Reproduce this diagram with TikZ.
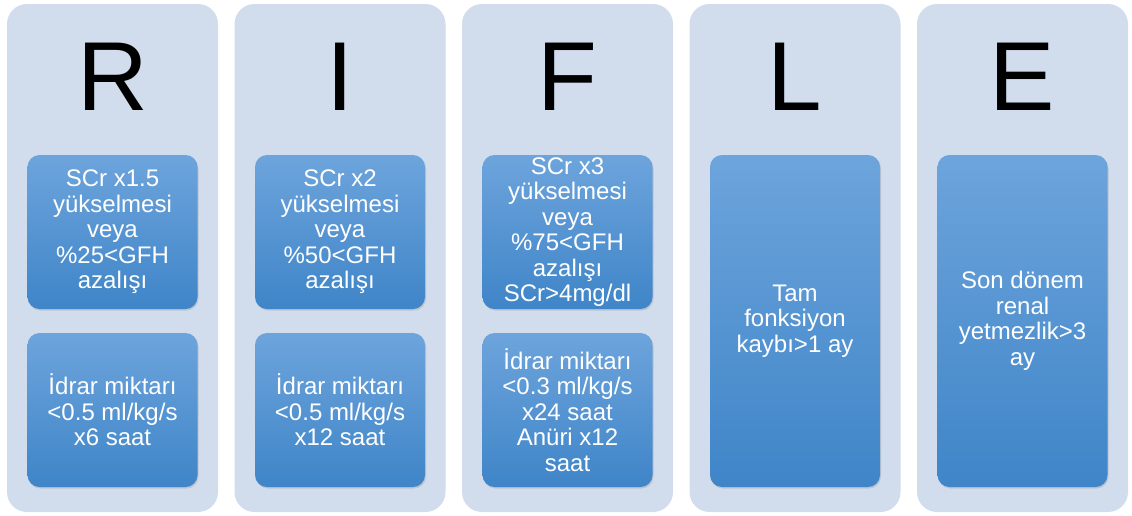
\documentclass[tikz,border=0pt]{standalone}
\usepackage{fontspec}
\setmainfont{Liberation Sans}
\usepackage{tikz}
\usetikzlibrary{shadows}
\definecolor{RifleBack}{HTML}{D1DCEC}
\definecolor{RifleTop}{HTML}{6DA4DC}
\definecolor{RifleBot}{HTML}{3F85C8}

\begin{document}
\begin{tikzpicture}[x=1pt, y=-1pt,
                      column/.style={fill=RifleBack, rounded corners=20pt, minimum width=211pt,
                                     minimum height=508pt, inner sep=0pt},
                      letter/.style={anchor=base, font=\fontsize{98}{98}\selectfont, inner sep=0pt},
                      crit/.style={rounded corners=12pt, top color=RifleTop, bottom color=RifleBot,
                                   minimum width=170pt, align=center, text=white,
                                   font=\fontsize{24}{25.5}\selectfont, inner sep=0pt,
                                   drop shadow={opacity=0.25, shadow xshift=1pt, shadow yshift=-1.5pt}},
                      half/.style={crit, minimum height=154pt},
                      full/.style={crit, minimum height=332pt}]
  \useasboundingbox (0,0) rectangle (1132,515);
  % columns
  \node[column] (colR) at (112.5,258) {};
  \node[column] (colI) at (340,258) {};
  \node[column] (colF) at (567.5,258) {};
  \node[column] (colL) at (795,258) {};
  \node[column] (colE) at (1022.5,258) {};
  % letters
  \node[letter] (letR) at (112.5,110) {R};
  \node[letter] (letI) at (340,110) {I};
  \node[letter] (letF) at (567.5,110) {F};
  \node[letter] (letL) at (795,110) {L};
  \node[letter] (letE) at (1022.5,110) {E};
  % criteria
  \node[half] (scrR) at (112.5,232) {SCr x1.5\\yükselmesi\\veya\\\%25<GFH\\azalışı};
  \node[half] (urR) at (112.5,410) {İdrar miktarı\\<0.5 ml/kg/s\\x6 saat};
  \node[half] (scrI) at (340,232) {SCr x2\\yükselmesi\\veya\\\%50<GFH\\azalışı};
  \node[half] (urI) at (340,410) {İdrar miktarı\\<0.5 ml/kg/s\\x12 saat};
  \node[half] (scrF) at (567.5,232) {SCr x3\\yükselmesi\\veya\\\%75<GFH\\azalışı\\SCr>4mg/dl};
  \node[half] (urF) at (567.5,410) {İdrar miktarı\\<0.3 ml/kg/s\\x24 saat\\Anüri x12\\saat};
  \node[full] (lossL) at (795,321) {Tam\\fonksiyon\\kaybı>1 ay};
  \node[full] (esrdE) at (1022.5,321) {Son dönem\\renal\\yetmezlik>3\\ay};
\end{tikzpicture}
\end{document}
